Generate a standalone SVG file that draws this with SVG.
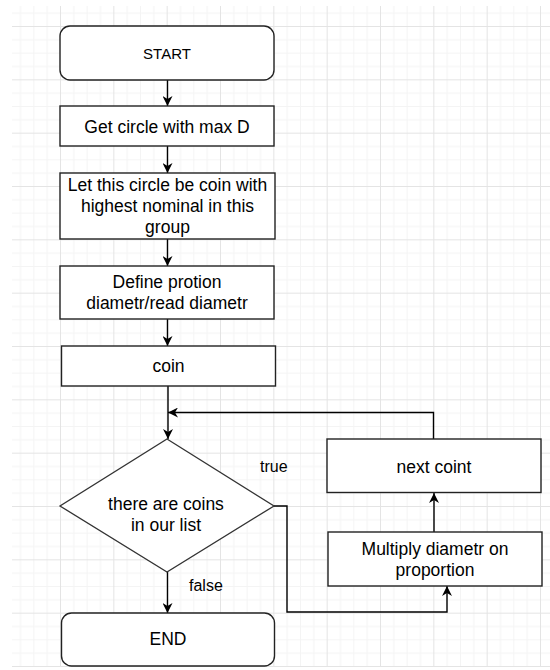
<svg xmlns="http://www.w3.org/2000/svg" width="550" height="670" viewBox="0 0 550 670">
  <defs>
    <pattern id="grid" patternUnits="userSpaceOnUse" x="60" y="26" width="53.333" height="53.333">
      <rect x="13.333" y="0" width="1" height="53.333" fill="#f4f4f4"/>
      <rect x="26.667" y="0" width="1" height="53.333" fill="#f4f4f4"/>
      <rect x="40" y="0" width="1" height="53.333" fill="#f4f4f4"/>
      <rect x="0" y="13.333" width="53.333" height="1" fill="#f4f4f4"/>
      <rect x="0" y="26.667" width="53.333" height="1" fill="#f4f4f4"/>
      <rect x="0" y="40" width="53.333" height="1" fill="#f4f4f4"/>
      <rect x="0" y="0" width="1" height="53.333" fill="#e4e4e4"/>
      <rect x="0" y="0" width="53.333" height="1" fill="#e4e4e4"/>
    </pattern>
    <marker id="arr" markerUnits="userSpaceOnUse" markerWidth="10" markerHeight="10" refX="10" refY="5" orient="auto">
      <path d="M0,0 L10,5 L0,10 L3,5 Z" fill="#000"/>
    </marker>
  </defs>
  <style>
    .box { fill: #fff; stroke: #222; stroke-width: 1.4; }
    .dia { fill: #fff; stroke: #333; stroke-width: 1.3; }
    .t { font-family: "Liberation Sans", Arial, sans-serif; font-size: 17.5px; fill: #000; text-anchor: middle; }
    .lbl { font-family: "Liberation Sans", Arial, sans-serif; font-size: 16px; fill: #000; }
    .c { fill: none; stroke: #000; stroke-width: 1.4; marker-end: url(#arr); }
  </style>
  <rect x="0" y="0" width="550" height="670" fill="#fff"/>
  <rect x="12" y="6" width="538" height="661" fill="url(#grid)"/>

  <g id="connectors">
    <path class="c" d="M167.5,80 V106"/>
    <path class="c" d="M167.5,146 V173"/>
    <path class="c" d="M167.5,239 V266"/>
    <path class="c" d="M167.5,319 V346"/>
    <path class="c" d="M168,386 V439"/>
    <path class="c" d="M433.5,439 V412.5 H168"/>
    <path class="c" d="M274,506 H287 V612 H447 V586"/>
    <path class="c" d="M434,532 V493"/>
    <path class="c" d="M167.5,572 V613"/>
    <text class="lbl" x="260" y="472">true</text>
    <text class="lbl" x="189" y="591">false</text>
  </g>

  <g id="start">
    <rect class="box" x="60" y="26" width="214" height="54" rx="10"/>
    <text class="t" x="167" y="59" style="font-size:15px">START</text>
  </g>
  <g id="get">
    <rect class="box" x="60" y="106" width="214" height="40"/>
    <text class="t" x="167" y="133">Get circle with max D</text>
  </g>
  <g id="let">
    <rect class="box" x="60" y="173" width="215" height="66"/>
    <text class="t" x="167.5" y="191">Let this circle be coin with</text>
    <text class="t" x="167.5" y="212">highest nominal in this</text>
    <text class="t" x="167.5" y="233">group</text>
  </g>
  <g id="define">
    <rect class="box" x="60" y="266" width="214" height="53"/>
    <text class="t" x="167" y="288">Define protion</text>
    <text class="t" x="167" y="309">diametr/read diametr</text>
  </g>
  <g id="coin">
    <rect class="box" x="61.5" y="346" width="214" height="40"/>
    <text class="t" x="168.5" y="372">coin</text>
  </g>
  <g id="decision">
    <polygon class="dia" points="167,439 274,506 167,572 60,506"/>
    <text class="t" x="166" y="510">there are coins</text>
    <text class="t" x="166" y="531">in our list</text>
  </g>
  <g id="next">
    <rect class="box" x="327" y="439" width="214" height="53.5"/>
    <text class="t" x="434" y="473">next coint</text>
  </g>
  <g id="multiply">
    <rect class="box" x="328" y="532" width="214" height="54"/>
    <text class="t" x="435" y="555">Multiply diametr on</text>
    <text class="t" x="435" y="576">proportion</text>
  </g>
  <g id="end">
    <rect class="box" x="61.5" y="613" width="213" height="53" rx="10"/>
    <text class="t" x="168" y="645">END</text>
  </g>
</svg>
